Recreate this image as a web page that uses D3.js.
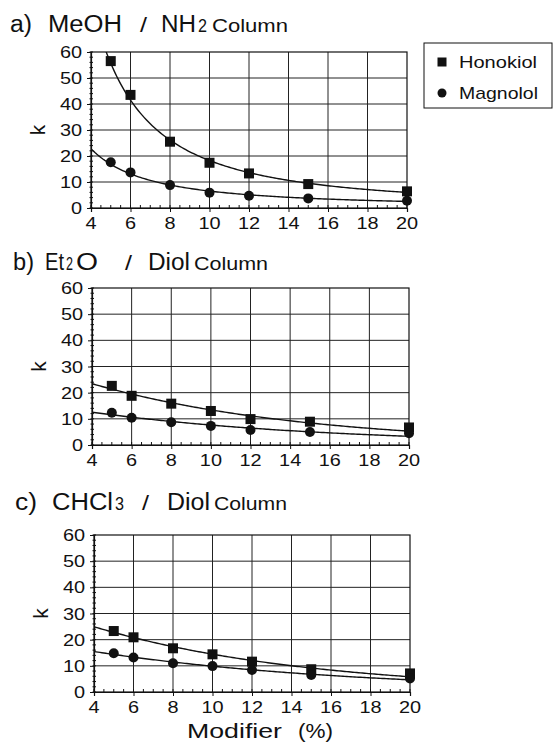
<!DOCTYPE html>
<html>
<head>
<meta charset="utf-8">
<script src="https://cdn.jsdelivr.net/npm/d3@7"></script>
<style>
  html, body { margin: 0; padding: 0; background: #fff; }
  svg { display: block; }
  text { font-family: "Liberation Sans", Arial, Helvetica, sans-serif; fill: #111; }
</style>
</head>
<body>
<svg id="chart" width="553" height="747"></svg>
<script>
// ---------- data ----------
const modifier = [5, 6, 8, 10, 12, 15, 20];
const seriesNames = ["Honokiol", "Magnolol"];

const honokiolA = [56.5, 43.5, 25.5, 17.4, 13.3, 9.2, 6.4];
const magnololA = [17.6, 13.7, 8.8, 5.9, 4.7, 3.7, 2.8];
const honokiolB = [22.6, 18.8, 15.8, 13.0, 9.9, 8.9, 6.7];
const magnololB = [12.3, 10.4, 8.7, 7.3, 5.7, 5.0, 4.5];
const honokiolC = [23.3, 20.9, 16.7, 14.4, 11.6, 8.7, 7.1];
const magnololC = [14.8, 13.2, 11.0, 9.9, 8.4, 6.5, 5.2];

const xTicks = [4, 6, 8, 10, 12, 14, 16, 18, 20];
const yTicks = [0, 10, 20, 30, 40, 50, 60];
const fitTypes = ["power", "exp", "exp"];
const fitSpaces = ["log", "linear", "linear"];

// title pieces: [text, xStart, xEnd, fontSize]
const titleA = [["a)", 10, 32, 23], ["MeOH", 48, 122, 23], ["/", 140, 147, 21], ["NH", 161, 196, 23], ["2", 198, 207, 18], ["Column", 212, 288, 18]];
const titleB = [["b)", 13, 34, 23], ["Et", 45, 64, 23], ["2", 66, 73, 18], ["O", 76, 98, 23], ["/", 125, 132, 21], ["Diol", 148, 190, 23], ["Column", 194, 268, 18]];
const titleC = [["c)", 15, 37, 23], ["CHCl", 52, 113, 23], ["3", 115, 124, 18], ["/", 142, 149, 21], ["Diol", 167, 210, 23], ["Column", 214, 287, 18]];

// ---------- layout ----------
const SX = 1.17; // horizontal stretch of the scanned lettering
const panels = [
  { x0: 91, x1: 407, y0: 208, y1: 52, titleY: 32, h: honokiolA, m: magnololA, title: titleA },
  { x0: 92, x1: 409, y0: 445, y1: 288, titleY: 270, h: honokiolB, m: magnololB, title: titleB },
  { x0: 94, x1: 410, y0: 692, y1: 535, titleY: 510, h: honokiolC, m: magnololC, title: titleC }
];

const svg = d3.select("#chart");

function stext(g, x, y, str, size, anchor) {
  return g.append("text")
    .attr("transform", `translate(${x},${y}) scale(${SX},1)`)
    .attr("font-size", size)
    .attr("text-anchor", anchor || "start")
    .text(str);
}
function ltext(g, x0, x1, y, str, size) {
  return g.append("text")
    .attr("x", x0).attr("y", y)
    .attr("font-size", size)
    .attr("textLength", x1 - x0)
    .attr("lengthAdjust", "spacingAndGlyphs")
    .text(str);
}

// least squares fit of k = a*x^b (power) or k = a*exp(b*x) (exp), in log or linear space
function fitModel(xs, ys, type, space) {
  const basis = (x, b) => type === "power" ? Math.pow(x, b) : Math.exp(b * x);
  if (space === "log") {
    const lx = xs.map(v => type === "power" ? Math.log(v) : v), ly = ys.map(Math.log);
    const mx = d3.mean(lx), my = d3.mean(ly);
    let sxy = 0, sxx = 0;
    lx.forEach((v, i) => { sxy += (v - mx) * (ly[i] - my); sxx += (v - mx) * (v - mx); });
    const b = sxy / sxx, a = Math.exp(my - b * mx);
    return x => a * basis(x, b);
  }
  let best = null;
  for (let b = -3; b <= 0; b += 0.0005) {
    let num = 0, den = 0;
    xs.forEach((x, i) => { const g = basis(x, b); num += ys[i] * g; den += g * g; });
    const a = num / den;
    let sse = 0;
    xs.forEach((x, i) => { const r = ys[i] - a * basis(x, b); sse += r * r; });
    if (!best || sse < best.sse) best = { a, b, sse };
  }
  return x => best.a * basis(x, best.b);
}

panels.forEach((p, pi) => {
  const g = svg.append("g");
  const x = d3.scaleLinear().domain([4, 20]).range([p.x0, p.x1]);
  const y = d3.scaleLinear().domain([0, 60]).range([p.y0, p.y1]);

  // title
  p.title.forEach(([t, a, b, s]) => ltext(g, a, b, p.titleY, t, s));

  // grid
  g.append("g").selectAll("line").data(d3.range(6, 20, 2)).join("line")
    .attr("x1", d => x(d)).attr("x2", d => x(d))
    .attr("y1", y(0)).attr("y2", y(60))
    .attr("stroke", "#222").attr("stroke-width", 1);
  g.append("g").selectAll("line").data(d3.range(10, 60, 10)).join("line")
    .attr("x1", x(4)).attr("x2", x(20))
    .attr("y1", d => y(d)).attr("y2", d => y(d))
    .attr("stroke", "#222").attr("stroke-width", 1);

  // frame
  g.append("rect")
    .attr("x", x(4)).attr("y", y(60))
    .attr("width", x(20) - x(4)).attr("height", y(0) - y(60))
    .attr("fill", "none").attr("stroke", "#111").attr("stroke-width", 1.2);

  // minor ticks
  g.append("g").selectAll("line").data(d3.range(4, 20.01, 0.5)).join("line")
    .attr("x1", d => x(d)).attr("x2", d => x(d))
    .attr("y1", y(0)).attr("y2", y(0) - 3)
    .attr("stroke", "#111").attr("stroke-width", 1);
  g.append("g").selectAll("line").data(d3.range(0, 60.01, 2)).join("line")
    .attr("x1", x(4) - 1.5).attr("x2", x(4) + 2)
    .attr("y1", d => y(d)).attr("y2", d => y(d))
    .attr("stroke", "#111").attr("stroke-width", 1);

  // axes
  const xAxis = d3.axisBottom(x).tickValues(xTicks).tickSize(4).tickFormat(d3.format("d"));
  const gx = g.append("g").attr("transform", `translate(0,${y(0)})`).call(xAxis);
  gx.select(".domain").attr("stroke", "#111").attr("stroke-width", 1.2);
  gx.selectAll(".tick line").attr("stroke", "#111");
  gx.selectAll(".tick text").remove();
  xTicks.forEach(t => stext(g, x(t), y(0) + 21, String(t), 17, "middle"));

  const yAxis = d3.axisLeft(y).tickValues(yTicks).tickSize(4).tickFormat(d3.format("d"));
  const gy = g.append("g").attr("transform", `translate(${x(4)},0)`).call(yAxis);
  gy.select(".domain").attr("stroke", "#111").attr("stroke-width", 1.2);
  gy.selectAll(".tick line").attr("stroke", "#111");
  gy.selectAll(".tick text").remove();
  yTicks.forEach(t => stext(g, x(4) - 9, y(t) + 6, String(t), 17, "end"));

  // y label
  g.append("text")
    .attr("transform", `translate(${x(4) - 46},${y(30)}) rotate(-90)`)
    .attr("font-size", 21).attr("text-anchor", "middle")
    .text("k");

  // clip
  const clipId = "clip" + pi;
  g.append("clipPath").attr("id", clipId).append("rect")
    .attr("x", x(4)).attr("y", y(60))
    .attr("width", x(20) - x(4)).attr("height", y(0) - y(60));

  const line = d3.line().x(d => x(d[0])).y(d => y(d[1]));
  const xs = d3.range(4, 20.001, 0.1);
  [p.h, p.m].forEach(vals => {
    const f = fitModel(modifier, vals, fitTypes[pi], fitSpaces[pi]);
    g.append("path")
      .attr("clip-path", `url(#${clipId})`)
      .attr("d", line(xs.map(v => [v, f(v)])))
      .attr("fill", "none").attr("stroke", "#111").attr("stroke-width", 1.4);
  });

  // markers
  g.append("g").selectAll("rect").data(modifier.map((m, i) => [m, p.h[i]])).join("rect")
    .attr("x", d => x(d[0]) - 5).attr("y", d => y(d[1]) - 5)
    .attr("width", 10).attr("height", 10).attr("fill", "#111");
  g.append("g").selectAll("circle").data(modifier.map((m, i) => [m, p.m[i]])).join("circle")
    .attr("cx", d => x(d[0])).attr("cy", d => y(d[1])).attr("r", 5).attr("fill", "#111");
});

// x axis title
ltext(svg, 187, 282, 738, "Modifier", 20);
ltext(svg, 298, 333, 738, "(%)", 20);

// legend
const lg = svg.append("g");
lg.append("rect").attr("x", 424).attr("y", 43).attr("width", 128).attr("height", 65)
  .attr("fill", "none").attr("stroke", "#111").attr("stroke-width", 1);
lg.append("rect").attr("x", 437.5).attr("y", 57.5).attr("width", 9).attr("height", 9).attr("fill", "#111");
lg.append("circle").attr("cx", 442).attr("cy", 93).attr("r", 4.5).attr("fill", "#111");
ltext(lg, 459, 537, 68, seriesNames[0], 17);
ltext(lg, 459, 538, 99, seriesNames[1], 17);
</script>
</body>
</html>
